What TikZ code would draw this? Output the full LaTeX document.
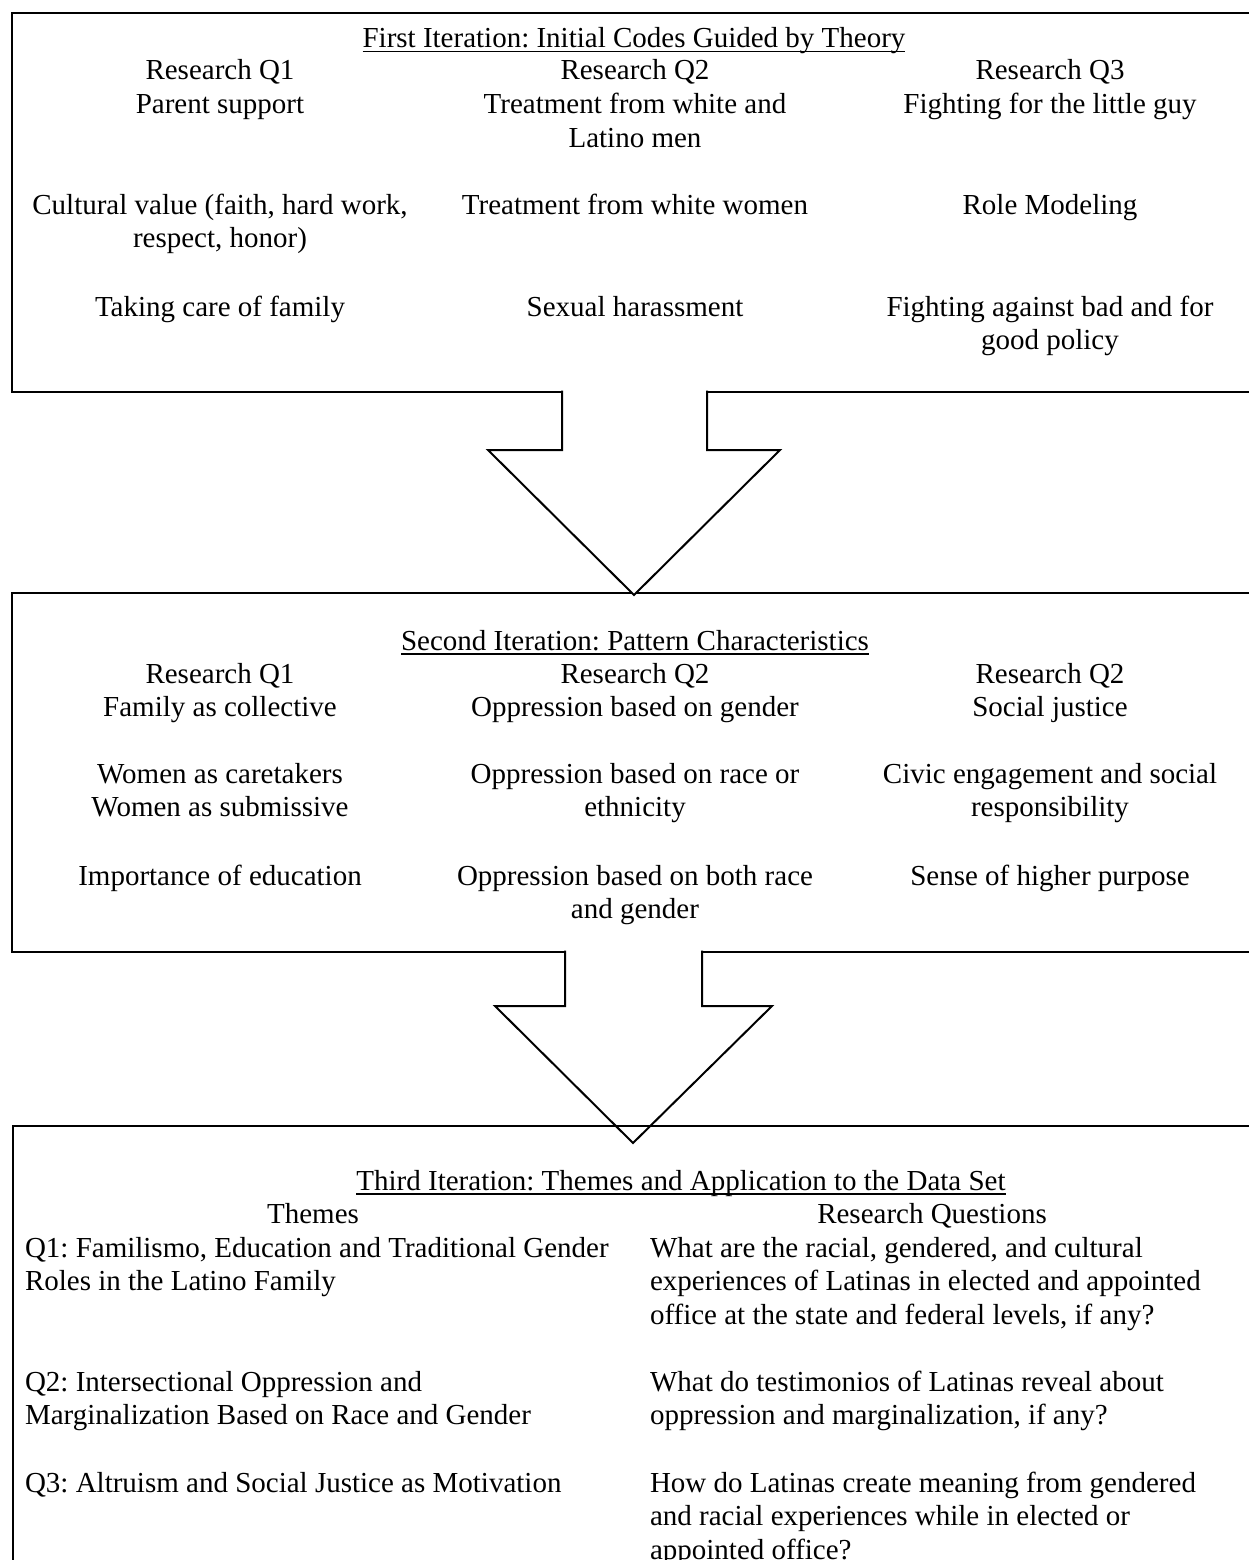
\documentclass[tikz,border=0pt]{standalone}
\usepackage{fontspec}
\setmainfont{Liberation Serif}
\frenchspacing
\newcommand\myul[1]{\setbox0\hbox{#1}\rlap{\rule[-4.5pt]{\wd0}{1.5pt}}\box0}
\begin{document}
\begin{tikzpicture}[x=1pt,y=-1pt,
  every node/.style={inner sep=0pt, outer sep=0pt, font=\fontsize{29}{33.5}\selectfont},
  boxline/.style={line width=2.6pt, line join=miter},
  arrowline/.style={line width=2pt, fill=white, line join=miter},
  ctext/.style={anchor=base, align=center},
  ltext/.style={anchor=base west, align=left}]
\useasboundingbox (0,0) rectangle (1249,1560);

% boxes 1 and 2
\draw[boxline] (12,13) rectangle (1262,392);
\draw[boxline] (12,593) rectangle (1262,952);

% block arrows
\filldraw[arrowline] (562,390.5) -- (562,450) -- (488,450) -- (634,595) -- (780,450) -- (707,450) -- (707,390.5);
\filldraw[arrowline] (565,950.5) -- (565,1006) -- (495,1006) -- (633,1143) -- (772,1006) -- (702,1006) -- (702,950.5);

% box 3
\draw[boxline] (13,1126) rectangle (1262,1620);

% (multi-line nodes: base anchor = baseline of the last line)
% ---- box 1 text
\node[ctext] (t1) at (634,48) {\myul{First Iteration: Initial Codes Guided by Theory}};
\node[ctext] (a11) at (220,113.5) {Research Q1\\Parent support};
\node[ctext] (a12) at (220,247.5) {Cultural value (faith, hard work,\\respect, honor)};
\node[ctext] (a13) at (220,316) {Taking care of family};
\node[ctext] (a21) at (635,147) {Research Q2\\Treatment from white and\\Latino men};
\node[ctext] (a22) at (635,214) {Treatment from white women};
\node[ctext] (a23) at (635,316) {Sexual harassment};
\node[ctext] (a31) at (1050,113.5) {Research Q3\\Fighting for the little guy};
\node[ctext] (a32) at (1050,214) {Role Modeling};
\node[ctext] (a33) at (1050,349.5) {Fighting against bad and for\\good policy};

% ---- box 2 text
\node[ctext] (t2) at (635,650) {\myul{Second Iteration: Pattern Characteristics}};
\node[ctext] (b11) at (220,716.5) {Research Q1\\Family as collective};
\node[ctext] (b12) at (220,816.5) {Women as caretakers\\Women as submissive};
\node[ctext] (b13) at (220,885) {Importance of education};
\node[ctext] (b21) at (635,716.5) {Research Q2\\Oppression based on gender};
\node[ctext] (b22) at (635,816.5) {Oppression based on race or\\ethnicity};
\node[ctext] (b23) at (635,918.5) {Oppression based on both race\\and gender};
\node[ctext] (b31) at (1050,716.5) {Research Q2\\Social justice};
\node[ctext] (b32) at (1050,816.5) {Civic engagement and social\\responsibility};
\node[ctext] (b33) at (1050,885) {Sense of higher purpose};

% ---- box 3 text
\node[ctext] (t3) at (681,1190) {\myul{Third Iteration: Themes and Application to the Data Set}};
\node[ctext] (h1) at (313,1223) {Themes};
\node[ctext] (h2) at (932,1223) {Research Questions};
\node[ltext] (c1) at (25,1290.5) {Q1: Familismo, Education and Traditional Gender\\Roles in the Latino Family};
\node[ltext] (c2) at (25,1424.5) {Q2: Intersectional Oppression and\\Marginalization Based on Race and Gender};
\node[ltext] (c3) at (25,1492) {Q3: Altruism and Social Justice as Motivation};
\node[ltext] (d1) at (650,1324) {What are the racial, gendered, and cultural\\experiences of Latinas in elected and appointed\\office at the state and federal levels, if any?};
\node[ltext] (d2) at (650,1424.5) {What do testimonios of Latinas reveal about\\oppression and marginalization, if any?};
\node[ltext] (d3) at (650,1559) {How do Latinas create meaning from gendered\\and racial experiences while in elected or\\appointed office?};
\end{tikzpicture}
\end{document}
